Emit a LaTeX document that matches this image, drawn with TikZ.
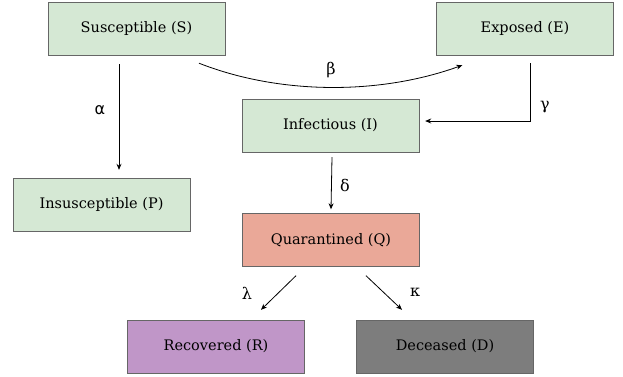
\documentclass[tikz,border=0pt]{standalone}
\usepackage{fontspec}
\setmainfont{DejaVu Serif}
\newfontfamily\alphafont{DejaVu Sans}
\usepackage{tikz}
\usetikzlibrary{arrows.meta}
\definecolor{ColGreen}{RGB}{213,232,212}
\definecolor{ColRed}{RGB}{234,168,152}
\definecolor{ColPurple}{RGB}{192,150,200}
\definecolor{ColGray}{RGB}{125,125,125}
\tikzstyle{Compartment}=[rectangle,draw=gray!80!black,fill=ColGreen,minimum width=177pt,
minimum height=53pt,inner sep=0pt,font=\fontsize{14.5}{17}\selectfont]
\tikzstyle{Flow}=[black,line width=0.8pt,-{Stealth[length=6pt,width=5pt]}]
\tikzstyle{Rate}=[font=\fontsize{16}{18}\selectfont]

\begin{document}
\begin{tikzpicture}[x=1pt,y=-1pt]
        \useasboundingbox (0,0) rectangle (623,376);
        \node[Compartment](S)at(136.5,28.5){Susceptible (S)};
        \node[Compartment](E)at(525,28.5){Exposed (E)};
        \node[Compartment](I)at(330.5,125.5){Infectious (I)};
        \node[Compartment](P)at(101.5,204.5){Insusceptible (P)};
        \node[Compartment,fill=ColRed](Q)at(331,240){Quarantined (Q)};
        \node[Compartment,fill=ColPurple](R)at(216,346.5){Recovered (R)};
        \node[Compartment,fill=ColGray,draw=black!60](D)at(445,346.5){Deceased (D)};
        \draw[Flow]([xshift=-17.5pt,yshift=-9pt]S.south)--([xshift=17.5pt,yshift=8pt]P.north);
        \draw[Flow]([xshift=62.5pt,yshift=-8pt]S.south) .. controls (280,95) and (380,95) .. ([xshift=26pt,yshift=-10pt]E.south west);
        \draw[Flow]([xshift=5pt,yshift=-8pt]E.south)|-([xshift=6pt,yshift=4.5pt]I.east);
        \draw[Flow]([xshift=1.5pt,yshift=-5pt]I.south)--([yshift=4pt]Q.north);
        \draw[Flow]([xshift=-35pt,yshift=-9pt]Q.south)--([xshift=45pt,yshift=10pt]R.north);
        \draw[Flow]([xshift=35pt,yshift=-9pt]Q.south)--([xshift=-43pt,yshift=10pt]D.north);
        \node[Rate](alpha)at(100,110){\alphafont α};
        \node[Rate](beta)at(331,70){β};
        \node[Rate](gamma)at(545,107){γ};
        \node[Rate](delta)at(345,185){δ};
        \node[Rate](lambda)at(247,293){λ};
        \node[Rate](kappa)at(415,292){κ};
    \end{tikzpicture}
\end{document}
